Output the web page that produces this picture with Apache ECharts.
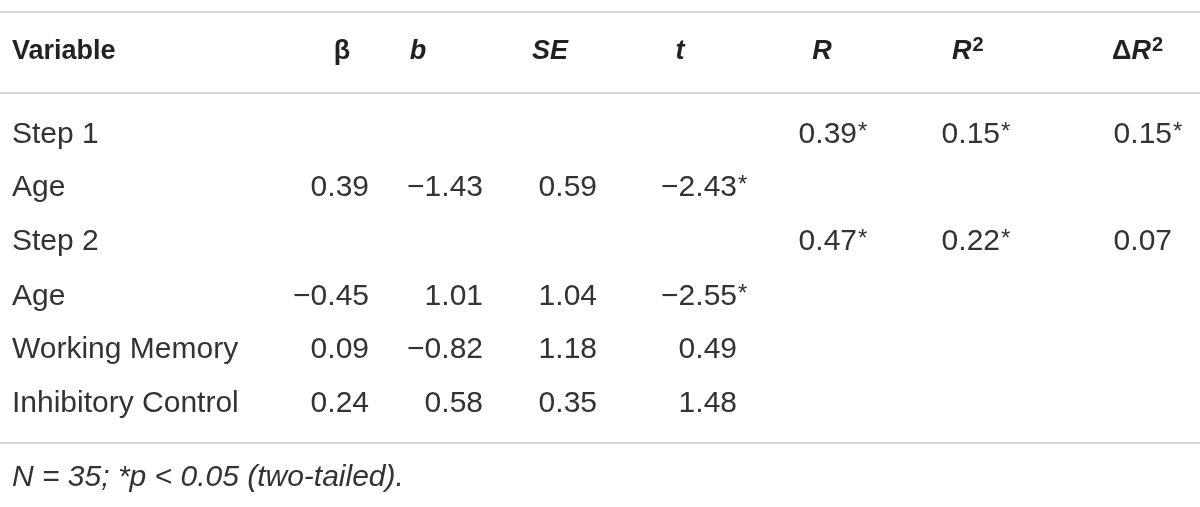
<!DOCTYPE html>
<html><head><meta charset="utf-8">
<script src="https://cdn.jsdelivr.net/npm/echarts@6/dist/echarts.min.js"></script>
<style>html,body{margin:0;padding:0;background:#fff}#c{width:1200px;height:507px}</style>
</head><body><div id="c"></div>
<script>
const rowLabels = ['Step 1','Age','Step 2','Age','Working Memory','Inhibitory Control'];
const beta = ['', '0.39', '', '−0.45', '0.09', '0.24'];
const bVals = ['', '−1.43', '', '1.01', '−0.82', '0.58'];
const seVals = ['', '0.59', '', '1.04', '1.18', '0.35'];
const tVals = ['', '−2.43*', '', '−2.55*', '0.49', '1.48'];
const rVals = ['0.39*', '', '0.47*', '', '', ''];
const r2Vals = ['0.15*', '', '0.22*', '', '', ''];
const dr2Vals = ['0.15*', '', '0.07', '', '', ''];
const footnote = 'N = 35; *p < 0.05 (two-tailed).';

const FONT = 'Liberation Sans';
const FS = 30;
const HS = 27;
const COL = '#333';
const rowY = [135, 188, 242, 297, 350, 404];
const cols = [
  {vals: beta, x: 369}, {vals: bVals, x: 483}, {vals: seVals, x: 597},
  {vals: tVals, x: 737}, {vals: rVals, x: 857}, {vals: r2Vals, x: 1000}, {vals: dr2Vals, x: 1172}
];
const g = [];
const line = y => ({type:'line', shape:{x1:0,y1:y,x2:1200,y2:y}, style:{stroke:'#c8c8c8', lineWidth:1.5}});
g.push(line(12), line(93), line(443));
const txt = (x, y, text, align, extra) => ({type:'text', x, y, style:Object.assign({text, x:0, y:0, align, verticalAlign:'middle', font:`${FS}px "${FONT}"`, fill:COL}, extra||{})});
const hb = `bold ${HS}px "${FONT}"`, hbi = `italic bold ${HS}px "${FONT}"`;
g.push(txt(12, 52, 'Variable', 'left', {font: hb, fill:'#222'}));
g.push(txt(342, 52, 'β', 'center', {font: hb, fill:'#222'}));
g.push(txt(418, 52, 'b', 'center', {font: hbi, fill:'#222'}));
g.push(txt(550, 52, 'SE', 'center', {font: hbi, fill:'#222'}));
g.push(txt(680, 52, 't', 'center', {font: hbi, fill:'#222'}));
g.push(txt(822, 52, 'R', 'center', {font: hbi, fill:'#222'}));
const supStyle = {fontSize:20, fontWeight:'bold', fontFamily:FONT, fill:'#222', padding:[0,0,14,1]};
g.push({type:'text', x:952, y:52, style:{text:'{i|R}{s|2}', rich:{i:{fontSize:HS, fontStyle:'italic', fontWeight:'bold', fontFamily:FONT, fill:'#222'}, s:supStyle}, verticalAlign:'middle', align:'left'}});
g.push({type:'text', x:1112, y:52, style:{text:'{d|Δ}{i|R}{s|2}', rich:{d:{fontSize:HS, fontWeight:'bold', fontFamily:FONT, fill:'#222'}, i:{fontSize:HS, fontStyle:'italic', fontWeight:'bold', fontFamily:FONT, fill:'#222'}, s:supStyle}, verticalAlign:'middle', align:'left'}});
rowLabels.forEach((l, i) => {
  g.push(txt(12, rowY[i], l, 'left'));
  cols.forEach(c => {
    const v = c.vals[i]; if (!v) return;
    const star = v.endsWith('*');
    const num = star ? v.slice(0, -1) : v;
    g.push(txt(c.x, rowY[i], num, 'right'));
    if (star) g.push(txt(c.x + 1, rowY[i] - 3, '*', 'left', {font:`${FS - 6}px "${FONT}"`}));
  });
});
g.push(txt(12, 478, footnote, 'left', {font:`italic ${FS}px "${FONT}"`}));
const chart = echarts.init(document.getElementById('c'));
chart.setOption({animation:false, graphic: g});
</script></body></html>
